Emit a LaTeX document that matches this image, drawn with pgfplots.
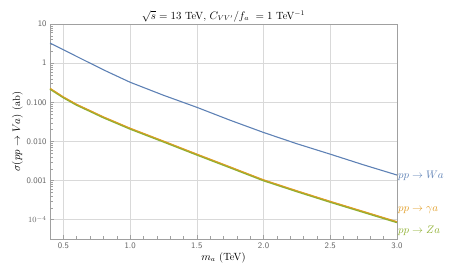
\documentclass[border=0pt]{standalone}
\usepackage{pgfplots}
\pgfplotsset{compat=1.18}
\definecolor{mBlue}{RGB}{94,129,181}
\definecolor{mOrange}{RGB}{225,156,36}
\definecolor{mGreen}{RGB}{143,176,50}
\definecolor{frameGray}{RGB}{160,160,160}
\definecolor{tickGray}{RGB}{100,100,100}
\begin{document}
\begin{tikzpicture}
\begin{axis}[
  at={(0,0)}, anchor=south west,
  scale only axis, width=347bp, height=215bp,
  xmin=0.4, xmax=3.0,
  ymode=log, ymin=3.2e-5, ymax=10,
  axis line style={frameGray},
  every tick/.style={frameGray},
  tick pos=left, tick align=inside,
  xtick={0.5,1.0,1.5,2.0,2.5,3.0},
  minor x tick num=4,
  xticklabel style={/pgf/number format/.cd, fixed, fixed zerofill, precision=1},
  ytick={1e-4,1e-3,1e-2,1e-1,1,10},
  yticklabels={$10^{-4}$,0.001,0.010,0.100,1,10},
  /pgf/number format/assume math mode=true,
  tick label style={font=\sffamily\fontsize{8.5}{9}\selectfont, text=tickGray},
  grid=major,
  major grid style={draw=black!15, line width=0.6pt},
  xlabel={$m_a$ (TeV)},
  ylabel={$\sigma(pp\to Va)$ (ab)},
  label style={font=\fontsize{10.5}{11}\selectfont},
  xlabel style={yshift=3pt},
  ylabel style={yshift=-3pt},
  title={$\sqrt{s}=13$ TeV, $C_{VV'}/f_a\ =1$ TeV$^{-1}$},
  title style={font=\fontsize{10.5}{11}\selectfont, yshift=-7.5pt},
  clip=false,
]
\addplot[mBlue, line width=1.1pt] coordinates {
(0.4,3.25) (0.5,2.20) (0.6,1.48) (0.7,1.00) (0.8,0.676) (0.9,0.468) (1.0,0.325) (1.25,0.151) (1.5,0.0743) (1.75,0.0347) (2.0,0.0169) (2.25,0.0087) (2.5,0.00471) (2.75,0.00251) (3.0,0.00138)};
\addplot[mGreen, line width=1.8pt] coordinates {
(0.4,0.219) (0.5,0.132) (0.6,0.085) (0.7,0.059) (0.8,0.0407) (0.9,0.0292) (1.0,0.0209) (1.25,0.0098) (1.5,0.00455) (1.75,0.00214) (2.0,0.00100) (2.25,0.000525) (2.5,0.000282) (2.75,0.000155) (3.0,0.0000851)};
\addplot[mOrange, line width=0.9pt, yshift=0.8pt] coordinates {
(0.4,0.219) (0.5,0.132) (0.6,0.085) (0.7,0.059) (0.8,0.0407) (0.9,0.0292) (1.0,0.0209) (1.25,0.0098) (1.5,0.00455) (1.75,0.00214) (2.0,0.00100) (2.25,0.000525) (2.5,0.000282) (2.75,0.000155) (3.0,0.0000851)};
\node[anchor=west, text=mBlue, font=\fontsize{11}{12}\selectfont, inner sep=1pt] at (axis cs:3.0,0.00132) {$pp\to Wa$};
\node[anchor=west, text=mOrange, font=\fontsize{11}{12}\selectfont, inner sep=1pt] at (axis cs:3.0,0.000173) {$pp\to \gamma a$};
\node[anchor=west, text=mGreen, font=\fontsize{11}{12}\selectfont, inner sep=1pt] at (axis cs:3.0,0.0000530) {$pp\to Za$};
\end{axis}
\path (-50bp,-37bp) rectangle (413bp,239bp);
\end{tikzpicture}
\end{document}
